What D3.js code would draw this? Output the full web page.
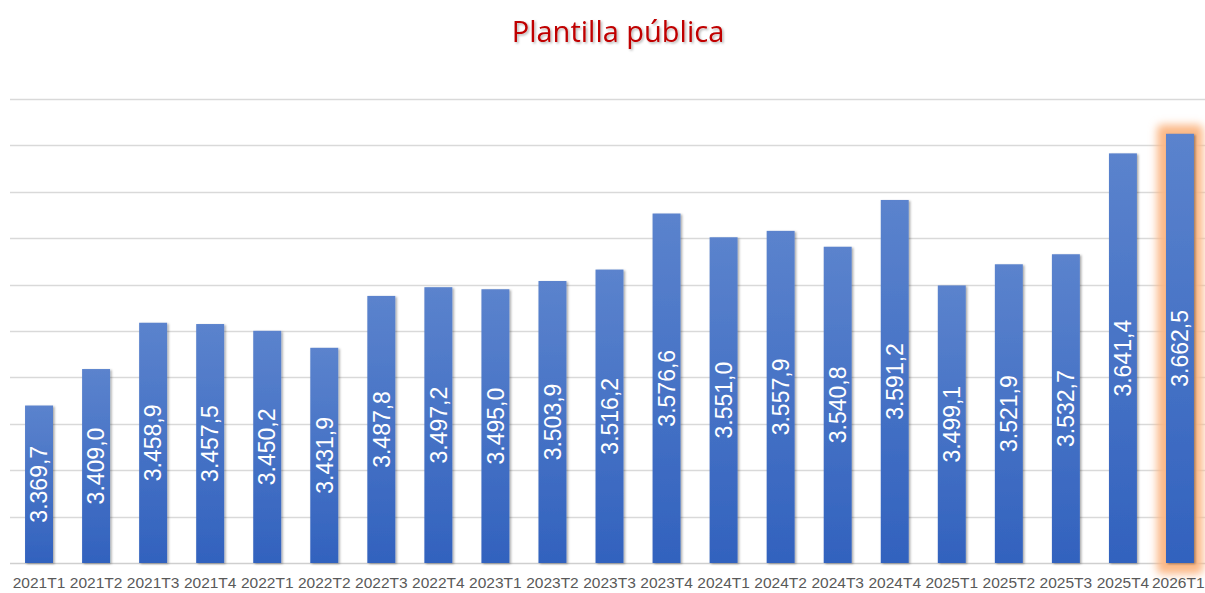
<!DOCTYPE html>
<html>
<head>
<meta charset="utf-8">
<script src="https://cdn.jsdelivr.net/npm/d3@7"></script>
<style>
  html, body { margin: 0; padding: 0; background: #ffffff; }
  #container { width: 1205px; height: 593px; overflow: hidden; }
</style>
</head>
<body>
<div id="container"></div>
<script>
const title = "Plantilla pública"
const quarters = ["2021T1", "2021T2", "2021T3", "2021T4", "2022T1", "2022T2", "2022T3", "2022T4",
  "2023T1", "2023T2", "2023T3", "2023T4", "2024T1", "2024T2", "2024T3", "2024T4",
  "2025T1", "2025T2", "2025T3", "2025T4", "2026T1"]
const values = [3369.7, 3409.0, 3458.9, 3457.5, 3450.2, 3431.9, 3487.8, 3497.2,
  3495.0, 3503.9, 3516.2, 3576.6, 3551.0, 3557.9, 3540.8, 3591.2,
  3499.1, 3521.9, 3532.7, 3641.4, 3662.5]
const highlighted = ["2026T1"]
const yTicks = [3200, 3250, 3300, 3350, 3400, 3450, 3500, 3550, 3600, 3650, 3700]

const data = quarters.map((q, i) => ({ q, v: values[i] }))
const fmt = d3.formatLocale({ decimal: ",", thousands: ".", grouping: [3], currency: ["", ""] }).format(",.1f")

const width = 1205
const height = 593
const margin = { top: 99, bottom: 30, left: 10.5, right: -3.5 }

const svg = d3.select("#container").append("svg")
  .attr("width", width)
  .attr("height", height)

const defs = svg.append("defs")

const grad = defs.append("linearGradient")
  .attr("id", "barGrad")
  .attr("x1", 0).attr("y1", 0).attr("x2", 0).attr("y2", 1)
grad.append("stop").attr("offset", "0%").attr("stop-color", "#5b83cd")
grad.append("stop").attr("offset", "100%").attr("stop-color", "#3262be")

const shadow = defs.append("filter")
  .attr("id", "barShadow")
  .attr("x", "-30%").attr("y", "-10%").attr("width", "160%").attr("height", "120%")
shadow.append("feDropShadow")
  .attr("dx", 1.5).attr("dy", 1).attr("stdDeviation", 1.2)
  .attr("flood-color", "#000").attr("flood-opacity", 0.35)

const glow = defs.append("filter")
  .attr("id", "glow")
  .attr("x", "-100%").attr("y", "-20%").attr("width", "300%").attr("height", "140%")
glow.append("feGaussianBlur").attr("stdDeviation", 4)

const titleShadow = defs.append("filter")
  .attr("id", "titleShadow")
  .attr("x", "-10%").attr("y", "-30%").attr("width", "120%").attr("height", "160%")
titleShadow.append("feDropShadow")
  .attr("dx", 1.5).attr("dy", 1.5).attr("stdDeviation", 1)
  .attr("flood-color", "#000").attr("flood-opacity", 0.3)

const x = d3.scaleBand()
  .domain(quarters)
  .range([margin.left, width - margin.right])
  .paddingInner(0.51)
  .paddingOuter(0.255)

const y = d3.scaleLinear()
  .domain([3200, 3700])
  .range([height - margin.bottom - 0, margin.top])

// gridlines
svg.append("g")
  .attr("id", "grid")
  .selectAll("line")
  .data(yTicks)
  .join("line")
  .attr("x1", 10)
  .attr("x2", width)
  .attr("y1", d => Math.round(y(d)) + 0.5)
  .attr("y2", d => Math.round(y(d)) + 0.5)
  .attr("stroke", d => d === 3200 ? "#cfcfcf" : "#d9d9d9")
  .attr("stroke-width", 1.3)

// glow behind highlighted bar
svg.append("g")
  .selectAll("rect")
  .data(data.filter(d => highlighted.includes(d.q)))
  .join("rect")
  .attr("x", d => x(d.q) - 9)
  .attr("y", d => y(d.v) - 9)
  .attr("width", x.bandwidth() + 18)
  .attr("height", d => y(3200) - y(d.v) + 20)
  .attr("rx", 5)
  .attr("fill", "#fbb886")
  .attr("filter", "url(#glow)")

// bars
svg.append("g")
  .attr("id", "bars")
  .selectAll("rect")
  .data(data)
  .join("rect")
  .attr("x", d => x(d.q))
  .attr("y", d => y(d.v))
  .attr("width", x.bandwidth())
  .attr("height", d => y(3200) - y(d.v))
  .attr("fill", "url(#barGrad)")
  .attr("filter", "url(#barShadow)")

// value labels
svg.append("g")
  .attr("id", "labels")
  .selectAll("text")
  .data(data)
  .join("text")
  .attr("transform", d => `translate(${x(d.q) + x.bandwidth() / 2}, ${(y(d.v) + y(3200)) / 2}) rotate(-90)`)
  .attr("text-anchor", "middle")
  .attr("dy", "0.36em")
  .attr("font-family", "Liberation Sans, Arial, sans-serif")
  .attr("font-size", 23)
  .attr("fill", "#ffffff")
  .text(d => fmt(d.v))

// x axis labels
const xAxis = svg.append("g")
  .attr("transform", `translate(0, ${y(3200)})`)
  .call(d3.axisBottom(x).tickSize(0).tickPadding(10))
xAxis.select(".domain").remove()
xAxis.selectAll("text")
  .attr("font-family", "Liberation Sans, Arial, sans-serif")
  .attr("font-size", 15.5)
  .attr("fill", "#595959")
  .attr("dy", "0.95em")

// keep the last label inside the frame
xAxis.selectAll(".tick").each(function(d) {
  const t = d3.select(this).select("text")
  const w = t.node().getComputedTextLength()
  const cx = x(d) + x.bandwidth() / 2
  const over = cx + w / 2 - (width - 0.5)
  if (over > 0) t.attr("x", -over)
})

// title
svg.append("text")
  .attr("x", 618)
  .attr("y", 42)
  .attr("text-anchor", "middle")
  .attr("font-family", "Open Sans, sans-serif")
  .attr("font-size", 29)
  .attr("fill", "#c00000")
  .attr("filter", "url(#titleShadow)")
  .text(title)
</script>
</body>
</html>
